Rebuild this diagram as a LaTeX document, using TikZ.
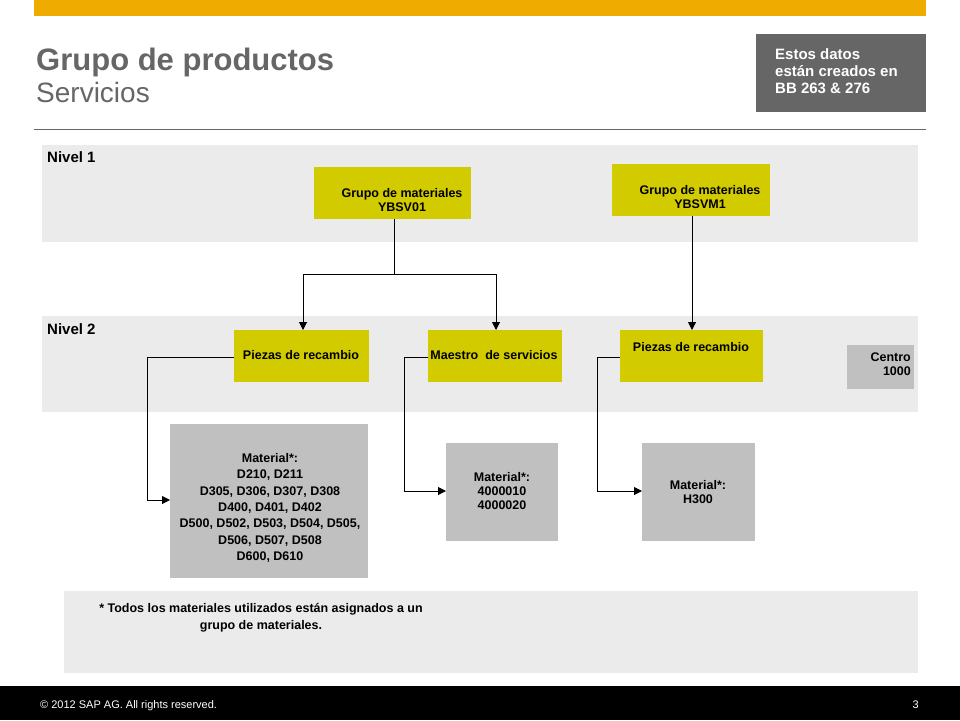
\documentclass[tikz,border=0pt]{standalone}
\usepackage{fontspec}
\setmainfont{Liberation Sans}
\usetikzlibrary{arrows.meta}
\definecolor{sapor}{HTML}{F0AB00}
\definecolor{dgray}{HTML}{666666}
\definecolor{band}{HTML}{EBEBEB}
\definecolor{ylw}{HTML}{D2CB00}
\definecolor{mat}{HTML}{C0C0C0}
\tikzset{
 lbl/.style={font=\bfseries\fontsize{12.5}{14}\selectfont,align=center,inner sep=0},
 conn/.style={draw=black,line width=1pt,-{Triangle[length=8pt,width=8pt]}},
 seg/.style={draw=black,line width=1pt}
}
\begin{document}
\begin{tikzpicture}[x=1pt,y=-1pt]
\useasboundingbox (0,0) rectangle (960,720);
\fill[sapor] (34,0) rectangle (926,16);
\node[anchor=base west,inner sep=0,text=dgray,font=\bfseries\fontsize{31}{36}\selectfont] (t1) at (36,70) {Grupo de productos};
\node[anchor=base west,inner sep=0,text=dgray,font=\fontsize{28}{32}\selectfont] (t2) at (36,102) {Servicios};
\fill[dgray] (756,34) rectangle (926,112);
\node[anchor=north west,align=left,inner sep=0,text=white,font=\bfseries\fontsize{15}{17}\selectfont] (note) at (775,48) {Estos datos\\están creados en\\BB 263 \& 276};
\draw[dgray,line width=0.8pt] (34,129) -- (926,129);
\fill[band] (42,145) rectangle (918,242);
\fill[band] (42,316) rectangle (918,412);
\node[anchor=base west,inner sep=0,font=\bfseries\fontsize{15}{17}\selectfont] (n1) at (47,162) {Nivel 1};
\node[anchor=base west,inner sep=0,font=\bfseries\fontsize{15}{17}\selectfont] (n2) at (47,334) {Nivel 2};
% level 1 boxes
\fill[ylw] (314,167) rectangle (471,219);
\coordinate (g1) at (394,219);
\node[lbl] (g1t) at (402,200) {Grupo de materiales\\YBSV01};
\fill[ylw] (612,164) rectangle (770,216);
\coordinate (g2) at (692,216);
\node[lbl] (g2t) at (700,197) {Grupo de materiales\\YBSVM1};
% level 2
\fill[ylw] (234,330) rectangle (369,382);
\node[lbl] (p1) at (301,355) {Piezas de recambio};
\fill[ylw] (428,330) rectangle (562,382);
\node[lbl] (m1) at (494,355) {Maestro\ \ de servicios};
\fill[ylw] (620,330) rectangle (763,382);
\node[lbl] (p2) at (691,347) {Piezas de recambio};
\fill[mat] (847,345) rectangle (914,389);
\node[lbl,align=right,anchor=north east] (c) at (911,353) {Centro\\1000};
% materials
\fill[mat] (170,424) rectangle (368,578);
\node[lbl,font=\bfseries\fontsize{12.5}{16.3}\selectfont] (mt1) at (270,508) {Material*:\\D210, D211\\D305, D306, D307, D308\\D400, D401, D402\\D500, D502, D503, D504, D505,\\D506, D507, D508\\D600, D610};
\fill[mat] (446,443) rectangle (558,541);
\node[lbl] (mt2) at (502,491) {Material*:\\4000010\\4000020};
\fill[mat] (642,443) rectangle (755,541);
\node[lbl] (mt3) at (698,492) {Material*:\\H300};
% connectors
\coordinate (j1) at (394,274);
\coordinate (pt1) at (303,330);
\coordinate (pt2) at (496,330);
\coordinate (pt3) at (692,330);
\draw[seg] (g1) -- (j1);
\draw[conn] (j1) -| (pt1);
\draw[conn] (j1) -| (pt2);
\draw[conn] (g2) -- (pt3);
\coordinate (a1) at (234,357); \coordinate (b1) at (170,500);
\coordinate (a2) at (428,357); \coordinate (b2) at (446,491);
\coordinate (a3) at (620,357); \coordinate (b3) at (642,491);
\draw[conn] (a1) -- (147,357) |- (b1);
\draw[conn] (a2) -- (404,357) |- (b2);
\draw[conn] (a3) -- (597,357) |- (b3);
% footnote
\fill[band] (64,591) rectangle (918,673);
\node[lbl,font=\bfseries\fontsize{12.5}{17}\selectfont] (fn) at (261,618) {* Todos los materiales utilizados están asignados a un\\grupo de materiales.};
\fill[black] (0,686) rectangle (960,720);
\node[anchor=base west,inner sep=0,text=white,font=\fontsize{11}{13}\selectfont] (cp) at (40,708) {© 2012 SAP AG. All rights reserved.};
\node[anchor=base east,inner sep=0,text=white,font=\fontsize{11}{13}\selectfont] (pg) at (919,708) {3};
\end{tikzpicture}
\end{document}
